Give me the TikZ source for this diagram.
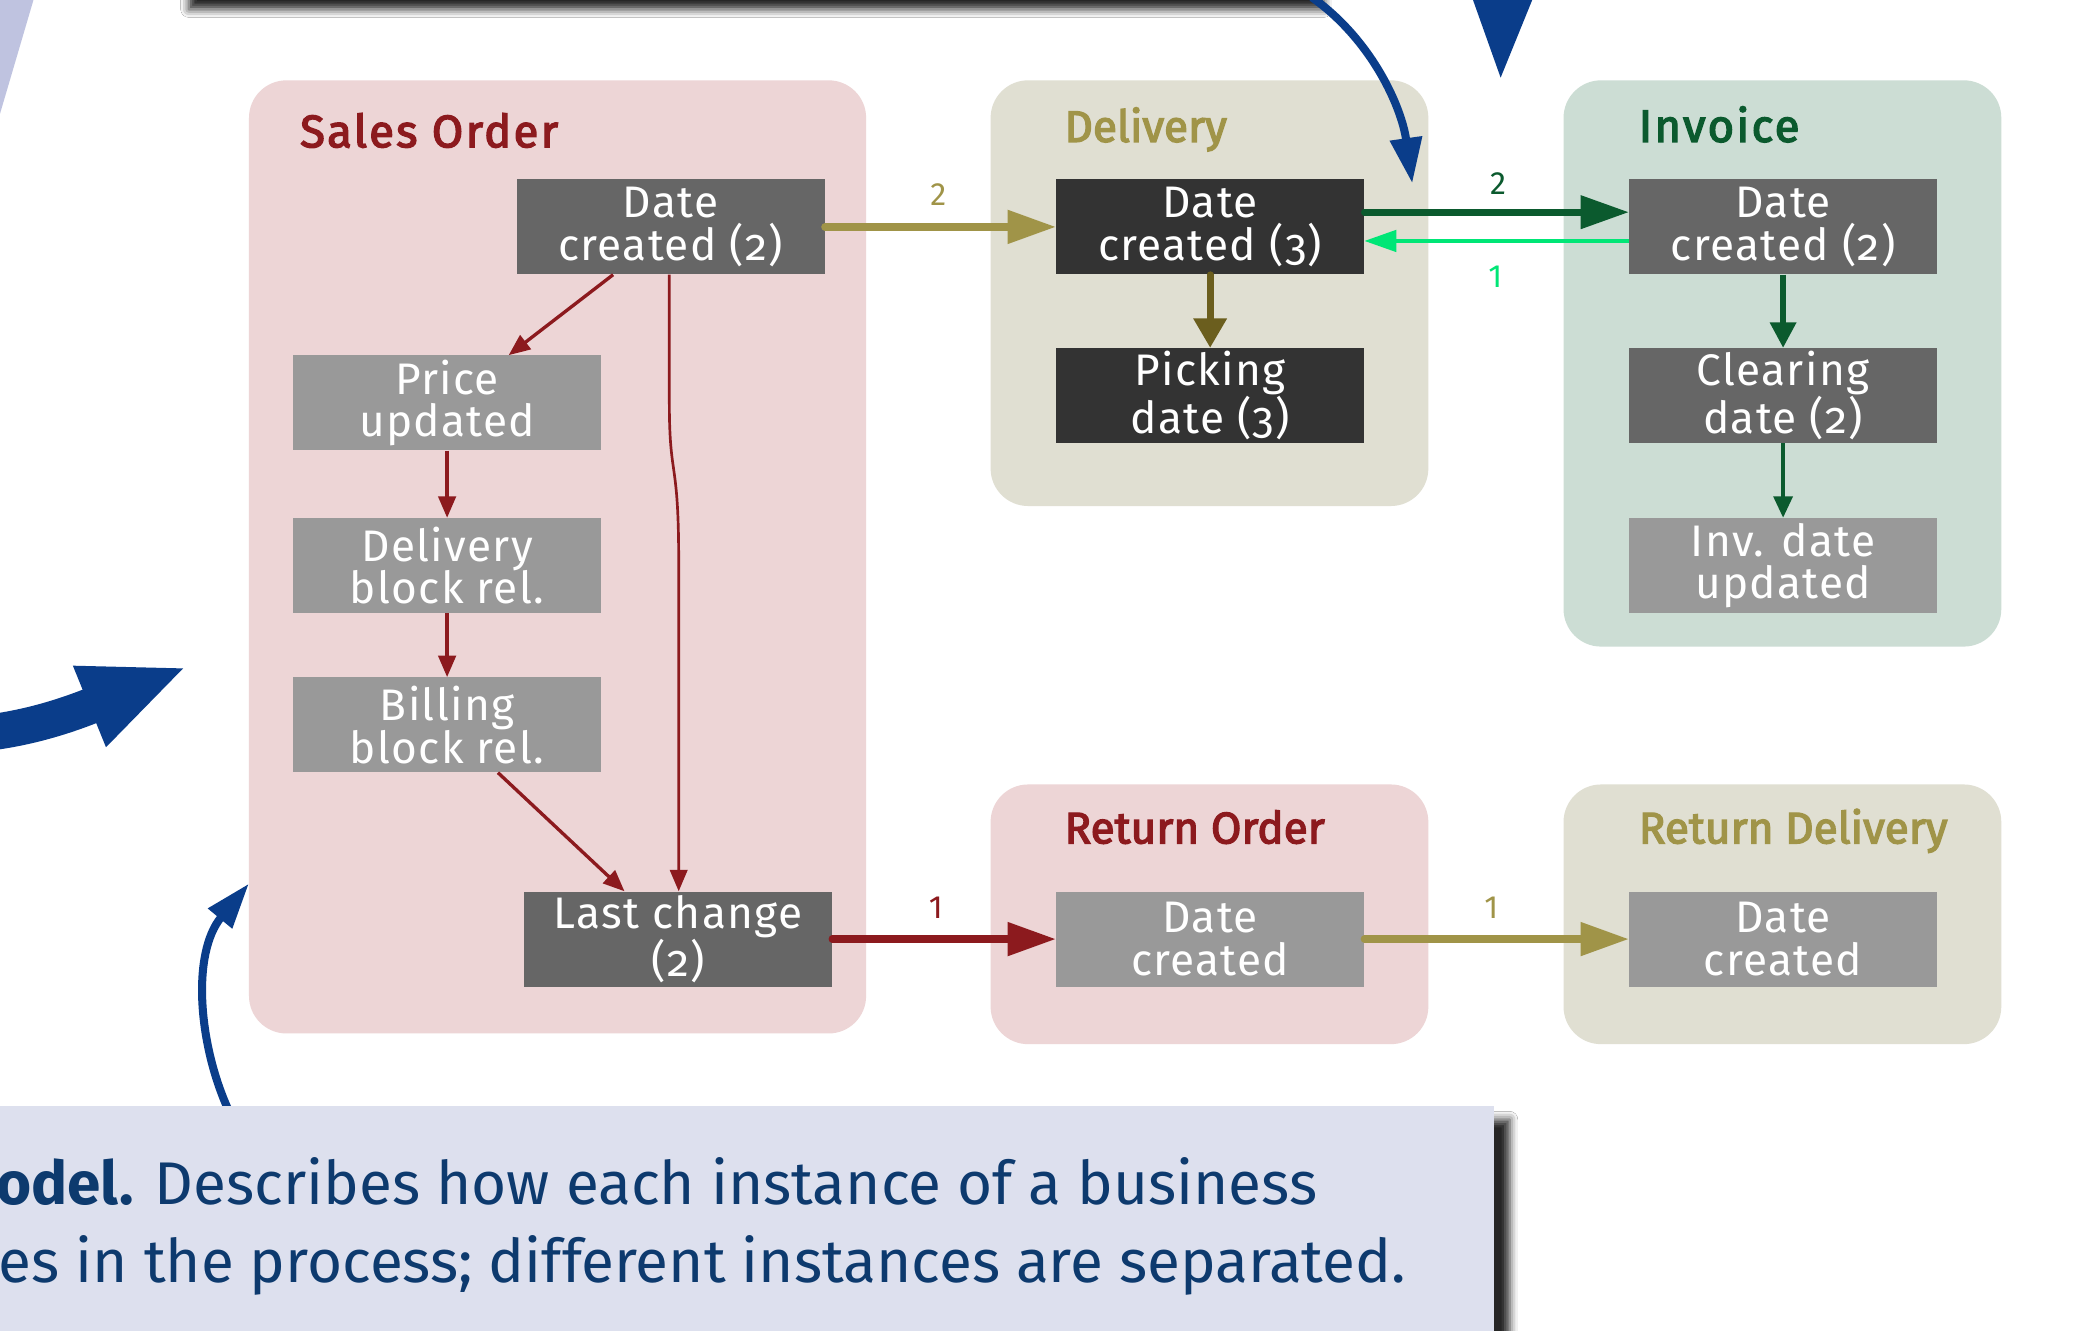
\documentclass[tikz,border=0pt]{standalone}
\usepackage{fontspec}
\setmainfont{Fira Sans}
\newfontfamily\boxfont{Fira Sans}[Numbers=OldStyle, LetterSpace=3]
\newfontfamily\titlefont{Fira Sans}[FakeBold=3]
\usetikzlibrary{arrows.meta,shadows.blur}

\definecolor{sopink}{HTML}{EDD5D6}
\definecolor{delbeige}{HTML}{E0DFD2}
\definecolor{invgreen}{HTML}{CCDDD4}
\definecolor{sored}{HTML}{8C1A1E}
\definecolor{delolive}{HTML}{A09448}
\definecolor{darkolive}{HTML}{6B5E1E}
\definecolor{invdark}{HTML}{0B5A2E}
\definecolor{invbright}{HTML}{00E676}
\definecolor{annblue}{HTML}{0A3D8A}
\definecolor{capfill}{HTML}{DDE0EE}
\definecolor{capwedge}{HTML}{BFC3E0}
\definecolor{captext}{HTML}{0D3A6E}
\definecolor{boxmid}{HTML}{666666}
\definecolor{boxlight}{HTML}{999999}
\definecolor{boxdark}{HTML}{333333}

\tikzset{
  groupbox/.style={rounded corners=28pt, draw=none, inner sep=0pt},
  fieldbox/.style={minimum width=230pt, minimum height=71pt, inner sep=0pt,
    text=white, align=center, font=\boxfont\fontsize{33}{32}\selectfont,
    execute at begin node={\rule{0pt}{28pt}}},
  grouptitle/.style={anchor=base west, inner sep=0pt,
    font=\titlefont\fontsize{33}{33}\selectfont},
  widetitle/.style={grouptitle, font=\titlefont\fontsize{34}{34}\selectfont\addfontfeatures{LetterSpace=5}},
  edgelabel/.style={inner sep=0pt, font=\fontsize{24}{24}\selectfont},
  thinred/.style={draw=sored, line width=2.5pt, -{Triangle[length=16pt,width=13pt]}},
  thickarrow/.style={line width=5.5pt, line cap=round, -{Triangle[length=36pt,width=24pt]}},
  captionline/.style={anchor=base west, inner sep=0pt, text=captext,
    font=\fontsize{45}{58}\selectfont},
  edgetext/.style={anchor=base east, inner sep=0pt, text=boxdark,
    font=\fontsize{45}{58}\selectfont},
}

\begin{document}
\begin{tikzpicture}[x=1pt,y=-1pt]
\useasboundingbox (0,0) rectangle (1568,994);
\clip (0,0) rectangle (1568,994);
\fill[white] (0,0) rectangle (1568,994);

% wedge and text ends of the neighbouring panel
\fill[capwedge] (0,0) -- (25,0) -- (0,85) -- cycle;
\node[edgetext] (ea) at (2.5,158) {e};
\node[edgetext] (eb) at (2.5,219) {n};
\node[edgetext] (ec) at (2.5,274) {.};

% shadow of the panel above
\node[fill=white, inner sep=0pt, minimum width=848pt, minimum height=80pt,
  blur shadow={shadow xshift=9pt, shadow yshift=-9pt, shadow blur radius=6pt, shadow opacity=85}]
  (toppanel) at (556,-42) {};

% document groups
\node[groupbox, fill=sopink,   minimum width=461pt, minimum height=712pt] (so)  at (416.5,416) {};
\node[groupbox, fill=delbeige, minimum width=327pt, minimum height=318pt] (del) at (903.5,219) {};
\node[groupbox, fill=invgreen, minimum width=327pt, minimum height=423pt] (inv) at (1331.5,271.5) {};
\node[groupbox, fill=sopink,   minimum width=327pt, minimum height=194pt] (ro)  at (903.5,683) {};
\node[groupbox, fill=delbeige, minimum width=327pt, minimum height=194pt] (rd)  at (1331.5,683) {};

\node[widetitle, text=sored]     (sot)  at (224,110) {Sales Order};
\node[grouptitle, text=delolive] (delt) at (795,106) {Delivery};
\node[widetitle, text=invdark]   (invt) at (1224,106) {Invoice};
\node[grouptitle, text=sored]    (rot)  at (795,630) {Return Order};
\node[grouptitle, text=delolive] (rdt)  at (1224,630) {Return Delivery};

% events
\node[fieldbox, fill=boxmid]   (sod)    at (501,169.5)  {Date\\created (2)};
\node[fieldbox, fill=boxlight] (price)  at (334,301)    {Price\\updated};
\node[fieldbox, fill=boxlight] (dblock) at (334,422.5)  {Delivery\\block rel.};
\node[fieldbox, fill=boxlight] (bblock) at (334,541.5)  {Billing\\block rel.};
\node[fieldbox, fill=boxmid]   (lastc)  at (506.5,701.5) {Last change\\(2)};
\node[fieldbox, fill=boxdark]  (deld)   at (904,169.5)  {Date\\created (3)};
\node[fieldbox, fill=boxdark]  (pick)   at (904,295.5)  {Picking\\date (3)};
\node[fieldbox, fill=boxmid]   (invd)   at (1332,169.5) {Date\\created (2)};
\node[fieldbox, fill=boxmid]   (clear)  at (1332,295.5) {Clearing\\date (2)};
\node[fieldbox, fill=boxlight] (invu)   at (1332,422.5) {Inv. date\\updated};
\node[fieldbox, fill=boxlight] (rod)    at (904,701.5)  {Date\\created};
\node[fieldbox, fill=boxlight] (rdd)    at (1332,701.5) {Date\\created};

% flow inside the sales order
\draw[thinred] ([xshift=-43pt]sod.south) -- ([xshift=46pt]price.north);
\draw[thinred] (price) -- (dblock);
\draw[thinred] (dblock) -- (bblock);
\draw[thinred] ([xshift=38pt]bblock.south) -- ([xshift=-40pt]lastc.north);
\draw[thinred, line width=2pt] ([xshift=-1pt]sod.south) -- (500,300)
  .. controls (500,360) and (507,340) .. (507,420) -- ([xshift=0.5pt]lastc.north);

% flow between documents
\draw[thickarrow, delolive] (sod.east) -- (deld.west);
\node[edgelabel, text=delolive] (l1) at (701,145) {2};
\draw[thickarrow, darkolive, line width=5pt, -{Triangle[length=22pt,width=24pt]}] (deld) -- (pick);
\draw[thickarrow, invdark, line width=5pt] ([yshift=11pt]deld.east) -- ([yshift=11pt]invd.west);
\node[edgelabel, text=invdark] (l2) at (1119,137) {2};
\draw[invbright, line width=2.8pt, -{Triangle[length=24pt,width=16pt]}]
  ([yshift=-10.5pt]invd.west) -- ([yshift=-10.5pt]deld.east);
\node[edgelabel, text=invbright] (l3) at (1117,207) {1};
\draw[invdark, line width=4pt, -{Triangle[length=19pt,width=19pt]}] (invd) -- (clear);
\draw[invdark, line width=3pt, -{Triangle[length=16pt,width=14pt]}] (clear) -- (invu);
\draw[thickarrow, sored] (lastc.east) -- (rod.west);
\node[edgelabel, text=sored] (l4) at (699,678) {1};
\draw[thickarrow, delolive] (rod.east) -- (rdd.west);
\node[edgelabel, text=delolive] (l5) at (1114,678) {1};

% annotation arrows
\coordinate (ba0) at (980,-2);
\coordinate (ba1) at (1055,137);
\draw[annblue, line width=6pt, -{Triangle[length=34pt,width=23pt]}]
  (ba0) .. controls (1025,30) and (1047,80) .. (ba1);
\fill[annblue] (1100,-1) -- (1145,-1) -- (1121,58) -- cycle;
\coordinate (bb0) at (-15,548);
\coordinate (bb1) at (140,498);
\draw[annblue, line width=27pt, -{Triangle[length=79pt,width=59pt]}]
  (bb0) .. controls (15,545) and (44,537) .. (bb1);
\coordinate (bc0) at (171,830);
\coordinate (bc1) at (186,660);
\draw[annblue, line width=6pt, -{Triangle[length=34pt,width=22pt]}]
  (bc0) .. controls (148,780) and (143,712) .. (bc1);

% caption panel
\node[fill=capfill, inner sep=0pt, minimum width=1140pt, minimum height=220pt, anchor=north east,
  blur shadow={shadow xshift=12pt, shadow yshift=-10pt, shadow blur radius=6pt, shadow opacity=85}]
  (caption) at (1116,826) {};
\node[captionline] (capa) at (-3,900) {\textbf{odel.} Describes how each instance of a business};
\node[captionline] (capb) at (-1,958) {es in the process; different instances are separated.};
\end{tikzpicture}
\end{document}
